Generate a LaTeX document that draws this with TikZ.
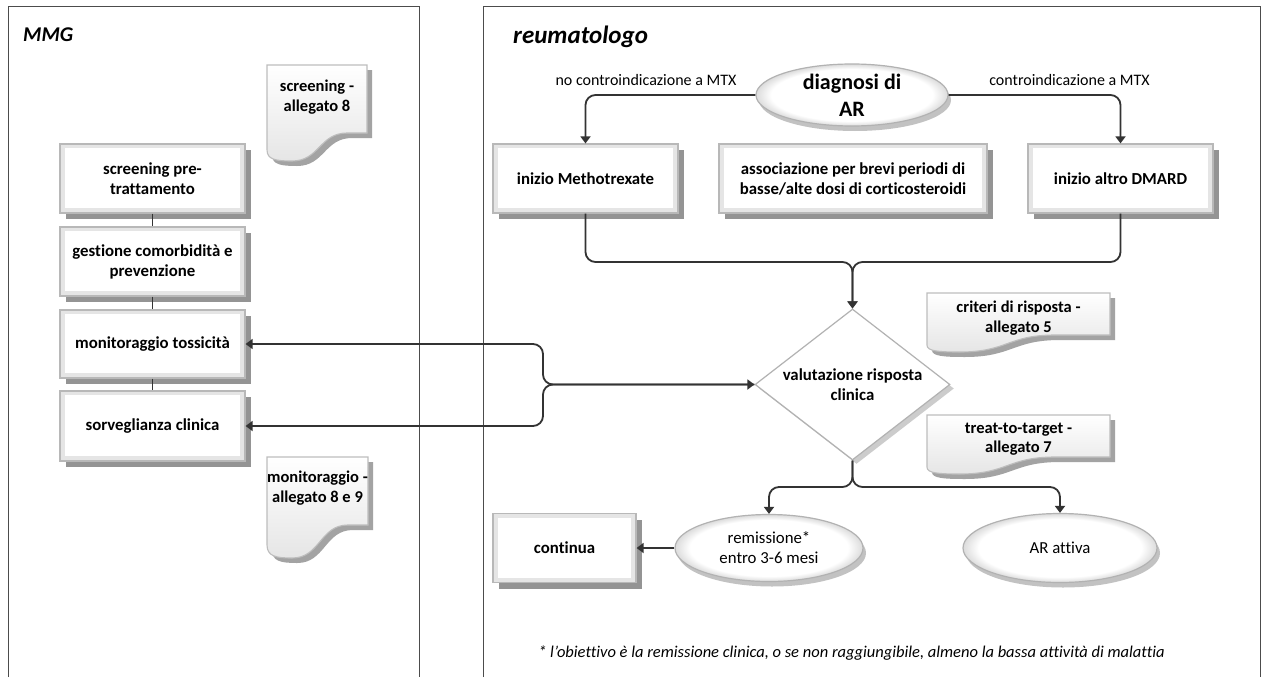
\documentclass[tikz,border=0pt]{standalone}
\usepackage{fontspec}
\setmainfont{Carlito}[Ligatures={NoCommon}]
\usetikzlibrary{arrows.meta,shapes.geometric,shadows,calc}
\newcommand\setfs[2]{\fontsize{#1}{#2}\selectfont}
% soft inner rim for the oval shapes
\pgfdeclareradialshading{ovalbevel}{\pgfpoint{0bp}{0bp}}{color(0bp)=(white); color(21bp)=(white); color(25bp)=(black!14); color(50bp)=(black!14)}

% page with a curled lower edge: left, top, width, height, curl depth, curl start, curl bottom
\newcommand\docpage[7]{%
  \def\pageoutline{(#1,#2) -- ({#1+#3},#2) -- ({#1+#3},{#2+#4}) -- ({#1+#6*#3},{#2+#4})
    .. controls ({#1+(#6+#7)/2*#3},{#2+#4}) and ({#1+(#6+#7)/2*#3},{#2+#4+#5}) .. ({#1+#7*#3},{#2+#4+#5})
    .. controls ({#1+0.35*#7*#3},{#2+#4+#5}) and (#1,{#2+#4+0.95*#5}) .. (#1,{#2+#4+0.6*#5}) -- cycle}%
  \fill[pageshadow, shift={(5,5)}] \pageoutline;
  \path[page] \pageoutline;
}

\tikzset{
  lane/.style={draw=black!70, line width=1pt},
  lanetitle/.style={anchor=west, inner sep=0pt, font=\setfs{21}{26}\bfseries\itshape},
  stepbox/.style={rectangle, draw=black!28, line width=1.2pt, fill=black!10,
    minimum width=185pt, minimum height=69pt, inner sep=2pt, align=center,
    font=\setfs{16.8}{20}\bfseries,
    general shadow={shadow xshift=6pt, shadow yshift=-6pt, fill=black!42},
    path picture={\fill[white] ([xshift=5pt,yshift=-4pt]path picture bounding box.north west)
      rectangle ([xshift=-5pt,yshift=5pt]path picture bounding box.south east);}},
  oval/.style={ellipse, draw=black!30, line width=1.2pt, shade, shading=ovalbevel,
    inner sep=0pt, align=center, font=\setfs{16.8}{20},
    general shadow={shadow xshift=3pt, shadow yshift=-5pt, fill=black!24}},
  decision/.style={diamond, draw=black!30, line width=1.2pt, fill=white, aspect=1.29,
    minimum width=195pt, minimum height=151pt, inner sep=0pt, align=center,
    font=\setfs{16.8}{20}\bfseries,
    general shadow={shadow xshift=4pt, shadow yshift=-4pt, fill=black!20}},
  doctext/.style={align=center, inner sep=0pt, font=\setfs{16.5}{19.5}\bfseries},
  page/.style={draw=black!26, line width=1.1pt, top color=white, middle color=white, bottom color=black!10},
  pageshadow/.style={fill=black!36},
  flowlabel/.style={inner sep=0pt, font=\setfs{16}{19.5}},
  conn/.style={draw=black!80, line width=1.8pt, rounded corners=10pt},
  link/.style={draw=black!80, line width=1.8pt},
  note/.style={inner sep=0pt, font=\setfs{16.5}{19.5}\itshape},
}

\begin{document}
\begin{tikzpicture}[x=1pt, y=-1pt, >={Triangle[length=7pt,width=10pt]}]
\useasboundingbox[fill=white] (0,0) rectangle (1265,677);

% swimlanes
\draw[lane] (8,677) -- (8,7) -- (419,7) -- (419,677);
\draw[lane] (483,677) -- (483,7) -- (1260,7) -- (1260,677);
\node[lanetitle] (mmg) at (23,35) {MMG};
\node[lanetitle, font=\setfs{25}{30}\bfseries\itshape] (reu) at (513,37) {reumatologo};

% reference pages
\docpage{267}{65}{100}{68}{28}{0.8}{0.25}
\docpage{267}{457}{101}{68}{33}{0.8}{0.25}
\docpage{927}{293}{183}{42}{17}{0.7}{0.18}
\docpage{927}{415}{183}{42}{17}{0.7}{0.18}
\node[doctext] (doc8) at (317,97) {screening -\\allegato 8};
\node[doctext] (doc89) at (317.5,488) {monitoraggio -\\allegato 8 e 9};
\node[doctext] (doc5) at (1018.5,318) {criteri di risposta -\\allegato 5};
\node[doctext] (doc7) at (1018.5,439) {treat-to-target -\\allegato 7};

% general practitioner lane
\node[stepbox] (pre) at (152.5,178.5) {screening pre-\\trattamento};
\node[stepbox] (gest) at (152.5,261.5) {gestione comorbidità e\\prevenzione};
\node[stepbox, minimum height=68pt] (tox) at (152.5,344) {monitoraggio tossicità};
\node[stepbox, minimum height=70pt] (surv) at (152.5,426) {sorveglianza clinica};
\draw[link] (pre) -- (gest);
\draw[link] (gest) -- (tox);
\draw[link] (tox) -- (surv);

% rheumatologist lane
\node[oval, minimum width=192pt, minimum height=62pt, font=\setfs{22}{27}\bfseries] (diag) at (852,95) {diagnosi di\\AR};
\node[stepbox] (meth) at (585.5,178.5) {inizio Methotrexate};
\node[stepbox, minimum width=268pt] (assoc) at (853,178.5) {associazione per brevi periodi di\\basse/alte dosi di corticosteroidi};
\node[stepbox] (dmard) at (1120.5,178.5) {inizio altro DMARD};
\node[flowlabel] (nolbl) at (646,80) {no controindicazione a MTX};
\node[flowlabel] (silbl) at (1069.5,80) {controindicazione a MTX};

\node[decision] (val) at (852.5,384.5) {valutazione risposta\\clinica};
\node[oval, minimum width=188pt, minimum height=67pt] (rem) at (769,548) {remissione*\\entro 3-6 mesi};
\node[oval, minimum width=194pt, minimum height=69pt] (att) at (1060,548) {AR attiva};
\node[stepbox, minimum width=143pt] (cont) at (564.5,548) {continua};

\node[note] (fn) at (851.5,653) {* l'obiettivo è la remissione clinica, o se non raggiungibile, almeno la bassa attività di malattia};

% junction points
\coordinate (jtop) at (852.5,262);
\coordinate (jbot) at (852.5,487);
\coordinate (brace) at (543,384.5);

% connectors
\draw[conn, ->] (diag.west) -| (meth.north);
\draw[conn, ->] (diag.east) -| (dmard.north);
\draw[conn, ->] (meth.south) |- (jtop) -- (val.north);
\draw[conn, ->] (dmard.south) |- (jtop) -- (val.north);
\draw[conn, <->] (tox.east) -| (brace) -- (val.west);
\draw[conn, <-] (surv.east) -| (brace) -- (val.west);
\draw[conn, ->] (val.south) -- (jbot) -| (rem.north);
\draw[conn, ->] (val.south) -- (jbot) -| (att.north);
\draw[conn, ->] (rem.west) -- (cont.east);
\end{tikzpicture}
\end{document}
